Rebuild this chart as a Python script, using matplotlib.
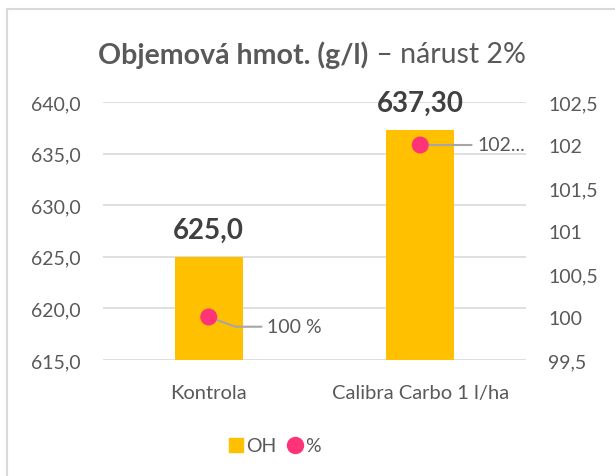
import matplotlib
matplotlib.use("Agg")
import matplotlib.pyplot as plt
from matplotlib.patches import Rectangle
from matplotlib.lines import Line2D
from matplotlib.ticker import FuncFormatter

plt.rcParams['font.family'] = ['Lato', 'DejaVu Sans']

categories = ["Kontrola", "Calibra Carbo 1 l/ha"]
oh_values = [625.0, 637.30]
pct_values = [100, 102]
oh_labels = ["625,0", "637,30"]
pct_labels = ["100 %", "102..."]
left_ticks = [615, 620, 625, 630, 635, 640]
right_ticks = [99.5, 100, 100.5, 101, 101.5, 102, 102.5]

GOLD = "#FFC000"
PINK = "#FF3377"
TXT = "#595959"
GRID = "#D9D9D9"
LEAD = "#A6A6A6"

W, H = 615, 477
fig = plt.figure(figsize=(W/100, H/100), dpi=100)

# chart frame
fig.patches.append(Rectangle((7/W, -0.1), 1.2, 1 - 10/H + 0.1, transform=fig.transFigure,
                             fill=False, edgecolor="#D9D9D9", linewidth=1.5))

ax = fig.add_axes([103/W, 1 - 361/H, (526-103)/W, (361-103)/H])
x = list(range(len(categories)))
ax.bar(x, oh_values, width=0.32, color=GOLD, zorder=2)
ax.set_xlim(-0.5, 1.5)
ax.set_ylim(615, 640)
ax.set_yticks(left_ticks)
ax.yaxis.set_major_formatter(FuncFormatter(lambda v, p: f"{v:.1f}".replace(".", ",")))
ax.grid(axis='y', color=GRID, linewidth=1.2, zorder=0)
ax.set_axisbelow(True)
for s in ax.spines.values():
    s.set_visible(False)
ax.tick_params(axis='y', length=0, colors=TXT, labelsize=14, pad=16)
ax.tick_params(axis='x', length=0, colors=TXT, labelsize=14.5, pad=17)
ax.set_xticks(x)
ax.set_xticklabels(categories)

for xi, v, lab in zip(x, oh_values, oh_labels):
    ax.annotate(lab, (xi, v), xytext=(0, 10), textcoords='offset points',
                ha='center', va='bottom', fontsize=20, fontweight='bold', color="#404040")

ax2 = ax.twinx()
ax2.set_ylim(99.5, 102.5)
ax2.set_yticks(right_ticks)
ax2.yaxis.set_major_formatter(FuncFormatter(lambda v, p: (f"{v:g}").replace(".", ",")))
for s in ax2.spines.values():
    s.set_visible(False)
ax2.tick_params(axis='y', length=0, colors=TXT, labelsize=14, pad=16)
ax2.scatter(x, pct_values, s=150, color=PINK, zorder=5, edgecolors='none')

# leader lines & labels
ax2.annotate(pct_labels[0], (x[0], pct_values[0]), xytext=(42, -7), textcoords='offset points',
             ha='left', va='center', fontsize=14, color=TXT,
             arrowprops=dict(arrowstyle='-', color=LEAD, lw=1.5, shrinkA=2, shrinkB=2,
                             connectionstyle="angle,angleA=0,angleB=-20,rad=0"))
ax2.annotate(pct_labels[1], (x[1], pct_values[1]), xytext=(41, 0), textcoords='offset points',
             ha='left', va='center', fontsize=14, color=TXT,
             arrowprops=dict(arrowstyle='-', color=LEAD, lw=1.5, shrinkA=2, shrinkB=0))

# title
t1 = fig.text(0.5, 1 - 55/H, "Objemová hmot. (g/l)", fontsize=20.5, fontweight='bold',
              color=TXT, ha='right', va='center')
t2 = fig.text(0.5, 1 - 55/H, " – nárust 2%", fontsize=20.5, color=TXT, ha='left', va='center')
fig.canvas.draw()
r = fig.canvas.get_renderer()
w1 = t1.get_window_extent(r).width
w2 = t2.get_window_extent(r).width
cx = 312
t1.set_x((cx - (w1 + w2)/2 + w1)/W)
t2.set_x((cx - (w1 + w2)/2 + w1)/W)

handles = [Line2D([], [], marker='s', linestyle='none', color=GOLD, markersize=10),
           Line2D([], [], marker='o', linestyle='none', color=PINK, markersize=11.5)]
fig.legend(handles, ["OH", "%"], loc='center', bbox_to_anchor=(274/W, 1 - 447/H), ncol=2,
           frameon=False, fontsize=14, labelcolor=TXT, handletextpad=0.05, columnspacing=0.5,
           handlelength=0.9)

fig.savefig("out.png", dpi=100)
